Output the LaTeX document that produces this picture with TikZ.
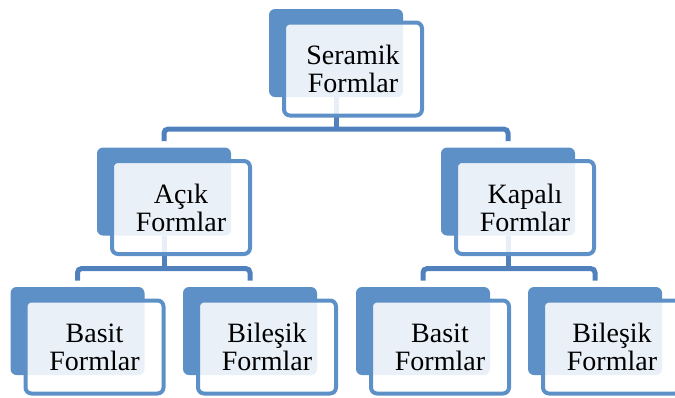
\documentclass[tikz,border=0pt]{standalone}
\usepackage{fontspec}
\setmainfont{Liberation Serif}
\definecolor{boxblue}{RGB}{93,144,199}
\definecolor{lineblue}{RGB}{80,129,189}
\begin{document}
\begin{tikzpicture}[x=0.5pt,y=-0.5pt]
\tikzset{
 backbox/.style={rectangle,rounded corners=3pt,fill=boxblue,minimum width=67pt,minimum height=44pt,inner sep=0pt},
 frontbox/.style={rectangle,rounded corners=3pt,draw=boxblue,line width=2pt,fill=white,fill opacity=0.87,text opacity=1,minimum width=69pt,minimum height=46.5pt,inner sep=0pt,align=center,font=\fontsize{14}{14}\selectfont},
 conn/.style={draw=lineblue,line width=2.5pt,rounded corners=2pt}
}
\clip (0,0) rectangle (675,397);
% back boxes
\node[backbox](seramikb) at (336,53) {};
\node[backbox](acikb) at (164,191.5) {};
\node[backbox](kapalib) at (508,191.5) {};
\node[backbox](basitab) at (77.5,331) {};
\node[backbox](bilesikab) at (250,331) {};
\node[backbox](basitkb) at (423,331) {};
\node[backbox](bilesikkb) at (595,331) {};
% connectors
\draw[conn] (seramikb.south) -- ++(0,33);
\draw[conn] ([yshift=3pt]acikb.north) -- ++(0,-12) -| ([yshift=3pt]kapalib.north);
\draw[conn] (acikb.south) -- ++(0,34);
\draw[conn] ([yshift=3pt]basitab.north) -- ++(0,-12) -| ([yshift=3pt]bilesikab.north);
\draw[conn] (kapalib.south) -- ++(0,34);
\draw[conn] ([yshift=3pt]basitkb.north) -- ++(0,-12) -| ([yshift=3pt]bilesikkb.north);
% front boxes
\node[frontbox](seramik) at (353,69) {Seramik\\Formlar};
\node[frontbox](acik) at (181,207.5) {Açık\\Formlar};
\node[frontbox](kapali) at (525,207.5) {Kapalı\\Formlar};
\node[frontbox](basita) at (94.5,347) {Basit\\Formlar};
\node[frontbox](bilesika) at (267,347) {Bileşik\\Formlar};
\node[frontbox](basitk) at (440,347) {Basit\\Formlar};
\node[frontbox](bilesikk) at (612,347) {Bileşik\\Formlar};
\end{tikzpicture}
\end{document}
